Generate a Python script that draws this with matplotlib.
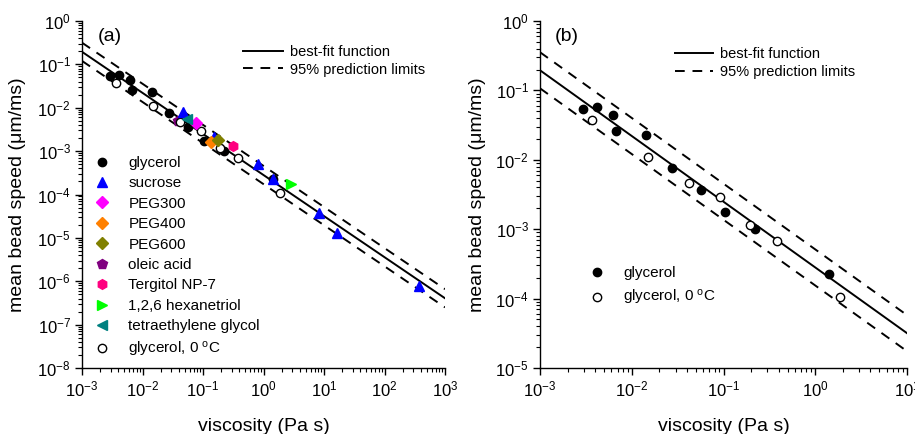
import numpy as np
import matplotlib
matplotlib.use("Agg")
import matplotlib.pyplot as plt
from matplotlib.ticker import LogLocator, NullFormatter

plt.rcParams['font.family'] = ['Liberation Sans', 'DejaVu Sans']
plt.rcParams['mathtext.fontset'] = 'custom'
plt.rcParams['mathtext.rm'] = 'Liberation Sans'
plt.rcParams['mathtext.it'] = 'Liberation Sans:italic'
plt.rcParams['mathtext.bf'] = 'Liberation Sans:bold'

# ---------------- data (viscosity Pa s, mean bead speed um/ms) ----------------
glycerol_x = [2.92e-3, 4.15e-3, 6.2e-3, 6.7e-3, 0.0143, 0.0272, 0.0573, 0.104, 0.220, 1.42]
glycerol_y = [0.054, 0.058, 0.0438, 0.026, 0.0225, 0.00755, 0.00367, 0.00175, 0.00101, 2.26e-4]

glycerol0_x = [3.66e-3, 0.015, 0.0416, 0.0916, 0.194, 0.379, 1.86]
glycerol0_y = [0.0374, 0.0109, 0.00468, 0.00294, 0.00115, 6.8e-4, 1.07e-4]

sucrose_x = [0.047, 0.154, 0.82, 1.45, 8.35, 16.6, 372]
sucrose_y = [0.0081, 0.0021, 5.0e-4, 2.24e-4, 3.8e-5, 1.3e-5, 7.9e-7]

peg300_x, peg300_y = [0.0766], [0.0044]
peg400_x, peg400_y = [0.134], [0.00166]
peg600_x, peg600_y = [0.179], [0.00181]
oleic_x, oleic_y = [0.039], [0.0050]
tergitol_x, tergitol_y = [0.31], [0.00132]
hexanetriol_x, hexanetriol_y = [2.82], [1.75e-4]
tetra_x, tetra_y = [0.055], [0.00543]

# best-fit function: log10(v) = fit_a + fit_b * log10(eta)
fit_a = -3.551
fit_b = -0.947
pred_half_a = 0.21   # half-width of 95% prediction band (decades), panel a
pred_half_b = 0.26   # panel b

# ---------------- figure ----------------
fig = plt.figure(figsize=(9.15, 4.34), dpi=100)
ax1 = fig.add_axes([82/915, 66/434, 363/915, 347/434])
ax2 = fig.add_axes([540/915, 66/434, 367/915, 347/434])

def fit_lines(ax, xmin, xmax, half):
    lx = np.linspace(np.log10(xmin), np.log10(xmax), 200)
    ly = fit_a + fit_b * lx
    x = 10**lx
    l1, = ax.plot(x, 10**ly, color='black', lw=1.4, label='best-fit function', zorder=2)
    l2, = ax.plot(x, 10**(ly + half), color='black', lw=1.4, ls=(0, (5, 4)),
                  label='95% prediction limits', zorder=2)
    ax.plot(x, 10**(ly - half), color='black', lw=1.4, ls=(0, (5, 4)), zorder=2)
    return [l1, l2]

ms = 6
deg_label = 'glycerol, 0 $^{\\mathrm{o}}$C'

# panel (a)
lines_a = fit_lines(ax1, 1e-3, 1e3, pred_half_a)
pts = []
pts.append(ax1.plot(glycerol_x, glycerol_y, 'o', color='black', ms=ms, label='glycerol', zorder=3)[0])
pts.append(ax1.plot(sucrose_x, sucrose_y, '^', color='#0000FF', ms=7, mec='#0000FF', label='sucrose', zorder=4)[0])
pts.append(ax1.plot(peg300_x, peg300_y, 'D', color='#FF00FF', ms=6, label='PEG300', zorder=4)[0])
pts.append(ax1.plot(peg400_x, peg400_y, 'D', color='#FF8000', ms=6, label='PEG400', zorder=4)[0])
pts.append(ax1.plot(peg600_x, peg600_y, 'D', color='#808000', ms=6, label='PEG600', zorder=4)[0])
pts.append(ax1.plot(oleic_x, oleic_y, 'p', color='#800080', ms=7, label='oleic acid', zorder=2.5)[0])
pts.append(ax1.plot(tergitol_x, tergitol_y, 'h', color='#FF0080', ms=7, label='Tergitol NP-7', zorder=4)[0])
pts.append(ax1.plot(hexanetriol_x, hexanetriol_y, '>', color='#00FF00', ms=7, label='1,2,6 hexanetriol', zorder=4)[0])
pts.append(ax1.plot(tetra_x, tetra_y, '<', color='#008080', ms=7, label='tetraethylene glycol', zorder=4)[0])
pts.append(ax1.plot(glycerol0_x, glycerol0_y, 'o', mfc='white', mec='black', mew=1.0, ms=ms,
                    label=deg_label, zorder=3)[0])

# panel (b)
lines_b = fit_lines(ax2, 1e-3, 1e1, pred_half_b)
g1, = ax2.plot(glycerol_x, glycerol_y, 'o', color='black', ms=ms, label='glycerol', zorder=3)
g2, = ax2.plot(glycerol0_x, glycerol0_y, 'o', mfc='white', mec='black', mew=1.0, ms=ms,
               label=deg_label, zorder=3)

for ax, xl, yl in [(ax1, (1e-3, 1e3), (1e-8, 1)), (ax2, (1e-3, 1e1), (1e-5, 1))]:
    ax.set_xscale('log')
    ax.set_yscale('log')
    ax.set_xlim(*xl)
    ax.set_ylim(*yl)
    ax.spines['top'].set_visible(False)
    ax.spines['right'].set_visible(False)
    for s in ('left', 'bottom'):
        ax.spines[s].set_linewidth(1.0)
    ax.xaxis.set_major_locator(LogLocator(base=10, numticks=20))
    ax.yaxis.set_major_locator(LogLocator(base=10, numticks=20))
    ax.xaxis.set_minor_locator(LogLocator(base=10, subs=np.arange(2, 10), numticks=20))
    ax.yaxis.set_minor_locator(LogLocator(base=10, subs=np.arange(2, 10), numticks=20))
    ax.xaxis.set_minor_formatter(NullFormatter())
    ax.yaxis.set_minor_formatter(NullFormatter())
    ax.tick_params(which='major', direction='out', length=5, width=1.0, labelsize=12, pad=3)
    ax.tick_params(which='minor', direction='out', length=3, width=0.8)
    ax.set_xlabel('viscosity (Pa s)', fontsize=14)
    ax.set_ylabel('mean bead speed (\u03bcm/ms)', fontsize=14)
    ax.xaxis.set_label_coords(0.5, -0.145)

ax1.yaxis.set_label_coords(-0.155, 0.5)
ax2.yaxis.set_label_coords(-0.148, 0.5)

ax1.text(0.044, 0.955, '(a)', transform=ax1.transAxes, fontsize=14, va='center', ha='left')
ax2.text(0.041, 0.955, '(b)', transform=ax2.transAxes, fontsize=14, va='center', ha='left')

# legends
leg_a_pts = ax1.legend(handles=pts, loc='upper left', bbox_to_anchor=(0.035, 0.611),
                       frameon=False, fontsize=11, handlelength=1.0, handletextpad=1.2,
                       labelspacing=0.42, borderaxespad=0, borderpad=0, numpoints=1)
ax1.add_artist(leg_a_pts)
ax1.legend(handles=lines_a, loc='upper left', bbox_to_anchor=(0.4435, 0.931),
           frameon=False, fontsize=10.5, handlelength=2.75, handletextpad=0.5,
           labelspacing=0.25, borderaxespad=0, borderpad=0)

leg_b_pts = ax2.legend(handles=[g1, g2], loc='upper left', bbox_to_anchor=(0.135, 0.294),
                       frameon=False, fontsize=11, handlelength=1.0, handletextpad=1.2,
                       labelspacing=0.55, borderaxespad=0, borderpad=0, numpoints=1)
ax2.add_artist(leg_b_pts)
ax2.legend(handles=lines_b, loc='upper left', bbox_to_anchor=(0.368, 0.925),
           frameon=False, fontsize=10.5, handlelength=2.6, handletextpad=0.5,
           labelspacing=0.3, borderaxespad=0, borderpad=0)

fig.savefig('out.png', dpi=100)
